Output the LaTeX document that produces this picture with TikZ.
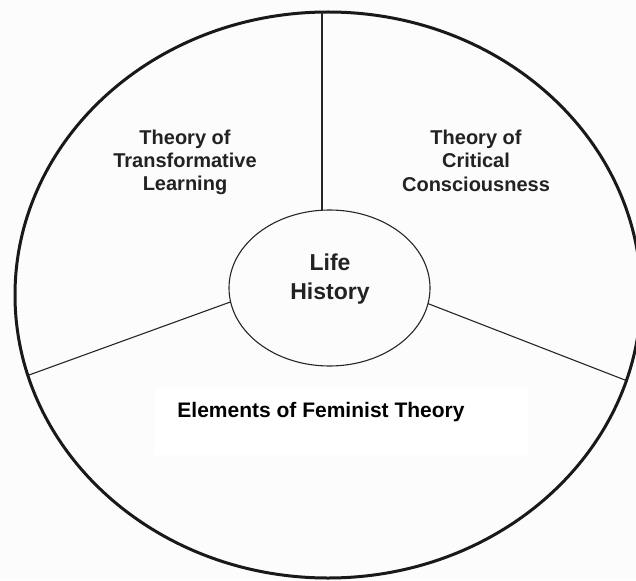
\documentclass[tikz,border=0pt]{standalone}
\usepackage{fontspec}
\setmainfont{Liberation Sans}
\usetikzlibrary{shapes.geometric}
\definecolor{bg}{RGB}{252,252,252}
\definecolor{txt}{RGB}{34,34,34}
\tikzset{
  x=1pt, y=-1pt,
  outerring/.style={draw=black!90, line width=3pt, ellipse, inner sep=0pt, outer sep=0pt,
    minimum width=626pt, minimum height=566pt},
  hub/.style={draw=black!85, line width=1.1pt, ellipse, inner sep=0pt, outer sep=0pt,
    minimum width=201pt, minimum height=156pt},
  spoke/.style={draw=black!85, line width=1.1pt},
  theory/.style={align=center, font=\bfseries\fontsize{20}{23.3}\selectfont, text=txt, inner sep=0pt},
  hubtext/.style={align=center, font=\bfseries\fontsize{23}{28.5}\selectfont, text=txt, inner sep=0pt},
  feminist/.style={font=\bfseries\fontsize{21}{25}\selectfont, text=black, inner sep=0pt, anchor=base}
}
\begin{document}
\begin{tikzpicture}
\fill[bg] (0,0) rectangle (636,580);
\useasboundingbox (0,0) rectangle (636,580);
\clip (0,0) rectangle (636,580);
\fill[white] (155,388) rectangle (528,455);
\node[outerring] (outer) at (328,295) {};
\node[hub] (life) at (329.5,288) {};
\coordinate (vx) at (322,0);
\draw[spoke] (vx |- life.north) -- (vx |- outer.north);
\draw[spoke] (life.188.5) -- (outer.195.9);
\draw[spoke] (life.-9.6) -- (outer.-16);
\node[hubtext] (lifetxt) at (330,279) {Life\\History};
\node[theory] (transform) at (185,162.5) {Theory of\\Transformative\\Learning};
\node[theory] (critical) at (476,160.7) {Theory of\\Critical\\Consciousness};
\node[feminist] (elements) at (321,417.3) {Elements of Feminist Theory};
\end{tikzpicture}
\end{document}
